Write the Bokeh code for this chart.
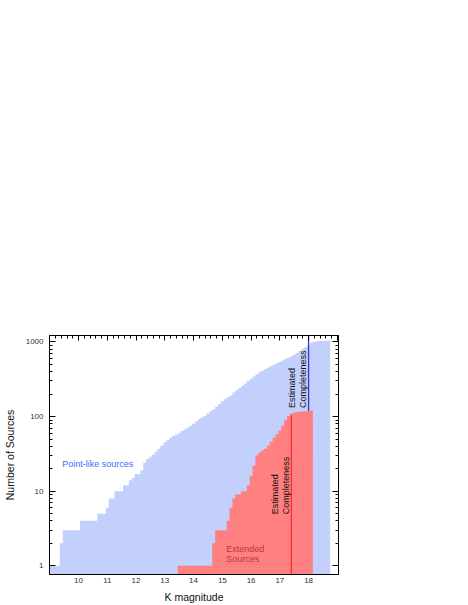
import numpy as np
from math import pi
from bokeh.plotting import figure
from bokeh.models import (Range1d, LogAxis, LinearAxis, FixedTicker,
                          SingleIntervalTicker, NumeralTickFormatter)
from bokeh.core.properties import value
from bokeh.embed import file_html
from bokeh.resources import INLINE

# ---------------- data ----------------
bin_width = 0.1
# cumulative counts of point-like sources, bins starting at 8.95 mag
point_bin_start = 8.95
point_counts = [1, 1, 1, 1, 2,
                3, 3, 3, 3, 3, 3,
                4, 4, 4, 4, 4, 4,
                5, 5, 5,
                6, 8, 8,
                10, 10, 10,
                12, 12, 14, 15, 17, 17,
                19, 24, 27, 29, 31, 34, 37, 41,
                45, 48, 52, 55, 57, 60, 64, 67, 71, 75,
                80, 86, 93, 98, 103, 110, 118, 125, 136, 148,
                160, 172, 181, 192, 210, 225, 242, 258, 278, 300,
                322, 345, 368, 390, 413, 435, 455, 475, 495, 518,
                540, 565, 590, 615, 645, 675, 710, 760, 810, 860,
                920, 975, 1005, 1020, 1030, 1035, 1040, 1042]
# cumulative counts of extended sources, bins starting at 13.45 mag
ext_bin_start = 13.45
ext_counts = [1, 1, 1, 1, 1, 1, 1, 1, 1, 1, 1, 1,
              2, 3, 3, 3, 3, 4,
              6, 8, 9, 9, 10, 10, 12,
              16, 22, 30, 33, 35, 37, 41, 46, 52, 58,
              65, 76, 90, 102, 110, 113, 115, 116, 117, 118, 119, 120]

# estimated completeness limits (mag, count where the marker line starts)
point_completeness_mag = 18.0
point_completeness_from = 119
ext_completeness_mag = 17.4
ext_completeness_to = 104

x_ticks = [10, 11, 12, 13, 14, 15, 16, 17, 18]
y_ticks = [1, 10, 100, 1000]
y_minor = [m * 10 ** d for d in range(0, 4) for m in range(2, 10)]

FONT = "Liberation Sans"
BLUE_FILL = "#c3d0fc"
RED_FILL = "#ff8080"


def step_outline(start, width, counts, floor):
    edges = [start + width * i for i in range(len(counts) + 1)]
    xs = [edges[0]]
    ys = [floor]
    for i, c in enumerate(counts):
        xs += [edges[i], edges[i + 1]]
        ys += [c, c]
    xs.append(edges[-1])
    ys.append(floor)
    return xs, ys


p = figure(width=468, height=605,
           x_range=Range1d(8.99, 19.04), y_range=Range1d(0.764, 1222),
           y_axis_type="log", output_backend="svg", toolbar_location=None,
           min_border_left=49, min_border_right=130,
           min_border_top=335, min_border_bottom=31)
p.background_fill_color = "white"
p.border_fill_color = "white"
p.outline_line_color = "black"
p.outline_line_width = 1
p.xgrid.visible = False
p.ygrid.visible = False

# histograms
bx, by = step_outline(point_bin_start, bin_width, point_counts, 0.1)
p.patch(bx, by, fill_color=BLUE_FILL, line_color=None)
rx, ry = step_outline(ext_bin_start, bin_width, ext_counts, 0.1)
p.patch(rx, ry, fill_color=RED_FILL, line_color=None)

# completeness markers
p.segment(x0=[ext_completeness_mag], y0=[0.1], x1=[ext_completeness_mag],
          y1=[ext_completeness_to], line_color="#ff2a2a", line_width=1.3)
p.segment(x0=[point_completeness_mag], y0=[point_completeness_from],
          x1=[point_completeness_mag], y1=[5000], line_color="#3a3ac0",
          line_width=1.3)

# in-plot texts
p.text(x=[9.433], y=[22.9], text=["Point-like sources"],
       text_font=value(FONT), text_font_size="9px", text_color="#3d6bff",
       text_align="left", text_baseline="middle")
p.text(x=[15.137], y=[1.95], text=["Extended\nSources"],
       text_font=value(FONT), text_font_size="9px", text_color="#c0303c",
       text_align="left", text_baseline="top", text_line_height=1.0)
p.text(x=[point_completeness_mag - 0.02], y=[130],
       text=["Estimated\nCompleteness"], angle=pi / 2,
       text_font=value(FONT), text_font_size="9px", text_color="#111111",
       text_align="left", text_baseline="bottom", text_line_height=1.1)
p.text(x=[ext_completeness_mag - 0.02], y=[4.9],
       text=["Estimated\nCompleteness"], angle=pi / 2,
       text_font=value(FONT), text_font_size="9px", text_color="#111111",
       text_align="left", text_baseline="bottom", text_line_height=1.1)

# bottom axis
xa = p.xaxis[0]
xa.ticker = FixedTicker(ticks=x_ticks, minor_ticks=[])
xa.formatter = NumeralTickFormatter(format="0")
xa.major_tick_in = 0
xa.major_tick_out = 0
xa.minor_tick_in = 0
xa.minor_tick_out = 0
xa.major_label_standoff = 3
xa.major_label_text_font = FONT
xa.major_label_text_font_size = "8px"
xa.major_label_text_color = "#333333"
xa.axis_line_color = "black"
xa.axis_label = "K magnitude"
xa.axis_label_standoff = 5
xa.axis_label_text_font = FONT
xa.axis_label_text_font_size = "10.5px"
xa.axis_label_text_font_style = "normal"
xa.axis_label_text_color = "#111111"

# left axis
ya = p.yaxis[0]
ya.ticker = FixedTicker(ticks=y_ticks, minor_ticks=y_minor)
ya.formatter = NumeralTickFormatter(format="0")
ya.major_tick_in = 6
ya.major_tick_out = 0
ya.minor_tick_in = 3
ya.minor_tick_out = 0
ya.major_label_standoff = 6
ya.major_label_text_font = FONT
ya.major_label_text_font_size = "8px"
ya.major_label_text_color = "#333333"
ya.axis_line_color = "black"
ya.major_tick_line_color = "black"
ya.minor_tick_line_color = "black"
ya.axis_label = "Number of Sources"
ya.axis_label_standoff = 7
ya.axis_label_text_font = FONT
ya.axis_label_text_font_size = "10.5px"
ya.axis_label_text_font_style = "normal"
ya.axis_label_text_color = "#111111"

# top axis (ticks only)
ta = LinearAxis(ticker=SingleIntervalTicker(interval=1, num_minor_ticks=5),
                major_tick_in=5, major_tick_out=0,
                minor_tick_in=3, minor_tick_out=0,
                major_label_text_font_size="8px",
                major_label_text_color=None,
                axis_line_color="black", major_tick_line_color="black",
                minor_tick_line_color="black")
p.add_layout(ta, "above")

# right axis (ticks only)
ra = LogAxis(ticker=FixedTicker(ticks=y_ticks, minor_ticks=y_minor),
             major_tick_in=6, major_tick_out=0,
             minor_tick_in=3, minor_tick_out=0,
             major_label_text_font_size="8px",
             major_label_text_color=None,
             axis_line_color="black", major_tick_line_color="black",
             minor_tick_line_color="black")
p.add_layout(ra, "right")

open("out.html", "w").write(file_html(p, INLINE))
